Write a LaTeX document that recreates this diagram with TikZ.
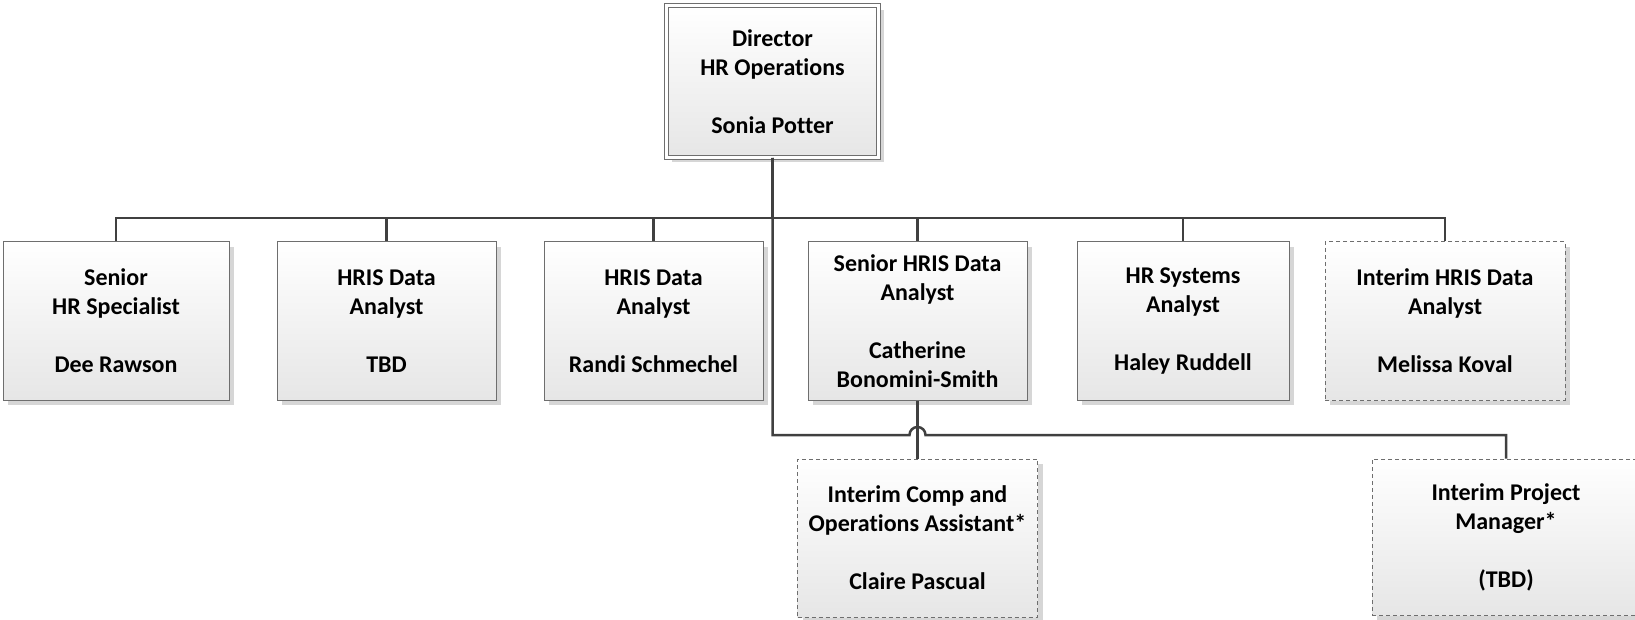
\documentclass[tikz,border=0pt]{standalone}
\usepackage{fontspec}
\setmainfont[Ligatures=NoCommon]{Carlito}
\usetikzlibrary{shadows}
\definecolor{linec}{HTML}{404040}
\definecolor{bordc}{HTML}{6E6E6E}
\definecolor{shadc}{HTML}{D6D6D6}
\definecolor{botc}{HTML}{E6E6E6}
\tikzset{
  orgbox/.style={draw=bordc, line width=1pt, top color=white, bottom color=botc,
    drop shadow={shadow xshift=5pt, shadow yshift=-5pt, fill=shadc, opacity=1},
    align=center, font=\bfseries\fontsize{24}{29}\selectfont, inner sep=0pt,
    minimum height=158pt},
  interim/.style={orgbox, dash pattern=on 4pt off 3pt},
  headbox/.style={orgbox, double=white, double distance=3.5pt, line width=0.9pt},
  conn/.style={draw=linec, line width=2.5pt}
}
\begin{document}
\begin{tikzpicture}[x=1pt,y=-1pt]
\useasboundingbox (0,0) rectangle (1635,620);
\clip (0,0) rectangle (1635,620);
\node[headbox, minimum width=212pt, minimum height=152pt] (dir) at (772.5,81.5)
  {Director\\HR Operations\\[29pt]Sonia Potter};
\node[orgbox, minimum width=226pt] (b1) at (116,321) {Senior\\HR Specialist\\[29pt]Dee Rawson};
\node[orgbox, minimum width=219pt] (b2) at (386.5,321) {HRIS Data\\Analyst\\[29pt]TBD};
\node[orgbox, minimum width=219pt] (b3) at (653.5,321) {HRIS Data\\Analyst\\[29pt]Randi Schmechel};
\node[orgbox, minimum width=219pt] (b4) at (917.5,321) {Senior HRIS Data\\Analyst\\[29pt]Catherine\\Bonomini-Smith};
\node[orgbox, minimum width=212pt] (b5) at (1183,321) {HR Systems\\Analyst\\[29pt]Haley Ruddell};
\node[interim, minimum width=240pt] (b6) at (1445,321) {Interim HRIS Data\\Analyst\\[29pt]Melissa Koval};
\node[interim, minimum width=240pt] (b7) at (917.5,538) {Interim Comp and\\Operations Assistant*\\[29pt]Claire Pascual};
\node[interim, minimum width=268pt, minimum height=156pt] (b8) at (1506,537) {Interim Project\\Manager*\\[29pt](TBD)};
\coordinate (bus) at (0,218);
\coordinate (bus2) at (0,435);
\coordinate (hopL) at (909.5,435);
\foreach \b in {b1,b2,b3,b4,b5,b6}
  \draw[conn] (dir.south) -- (dir.south |- bus) -| (\b.north);
\draw[conn] (b4.south) -- (b7.north);
\draw[conn] (dir.south) -- (dir.south |- bus2) -- (hopL) arc[start angle=180, end angle=0, radius=8pt] -| (b8.north);
\end{tikzpicture}
\end{document}
